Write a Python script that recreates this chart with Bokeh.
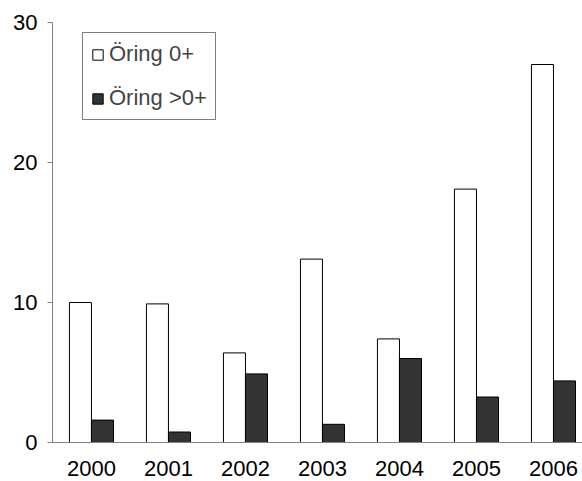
from bokeh.plotting import figure
from bokeh.models import ColumnDataSource, Range1d, FixedTicker, Legend, LegendItem
from bokeh.transform import dodge
from bokeh.embed import file_html
from bokeh.resources import INLINE

years = ["2000", "2001", "2002", "2003", "2004", "2005", "2006"]
oring_0 = [10.0, 9.9, 6.4, 13.1, 7.4, 18.1, 27.0]
oring_gt0 = [1.6, 0.75, 4.9, 1.3, 6.0, 3.25, 4.4]
y_ticks = [0, 10, 20, 30]

FONT = "Liberation Sans"

src = ColumnDataSource(dict(x=list(range(len(years))), a=oring_0, b=oring_gt0))

p = figure(frame_width=530, frame_height=420,
           output_backend="svg", toolbar_location=None,
           x_range=Range1d(-0.506, 6.377), y_range=Range1d(0, 30),
           min_border_left=52, min_border_right=0, min_border_top=22, min_border_bottom=39)

bw = 0.286
r1 = p.vbar(x=dodge("x", -bw / 2), top="a", width=bw, source=src,
            fill_color="white", line_color="black", line_width=1)
r2 = p.vbar(x=dodge("x", bw / 2), top="b", width=bw, source=src,
            fill_color="#333333", line_color="black", line_width=1)

p.xgrid.visible = False
p.ygrid.visible = False
p.outline_line_color = None
p.background_fill_color = "white"

ya = p.yaxis[0]
ya.ticker = FixedTicker(ticks=y_ticks)
ya.axis_line_color = "#808080"
ya.major_tick_line_color = "#808080"
ya.major_tick_out = 5
ya.major_tick_in = 0
ya.minor_tick_line_color = None
ya.major_label_text_font = FONT
ya.major_label_text_font_size = "22px"
ya.major_label_text_color = "black"
ya.major_label_standoff = 10

xa = p.xaxis[0]
xa.ticker = FixedTicker(ticks=list(range(len(years))))
xa.major_label_overrides = {i: y for i, y in enumerate(years)}
xa.axis_line_color = "#808080"
xa.major_tick_line_color = None
xa.minor_tick_line_color = None
xa.major_label_text_font = FONT
xa.major_label_text_font_size = "22px"
xa.major_label_text_color = "black"
xa.major_label_standoff = 12

legend = Legend(items=[LegendItem(label="Öring 0+", renderers=[r1]),
                       LegendItem(label="Öring >0+", renderers=[r2])],
                location=(30, 322), orientation="vertical",
                label_text_font=FONT, label_text_font_size="22px",
                glyph_width=13, glyph_height=13, label_height=24,
                spacing=18, padding=8, label_standoff=5, margin=0,
                border_line_color="black", border_line_width=1,
                background_fill_color="white", background_fill_alpha=1)
p.add_layout(legend, "center")

open("out.html", "w").write(file_html(p, INLINE))
